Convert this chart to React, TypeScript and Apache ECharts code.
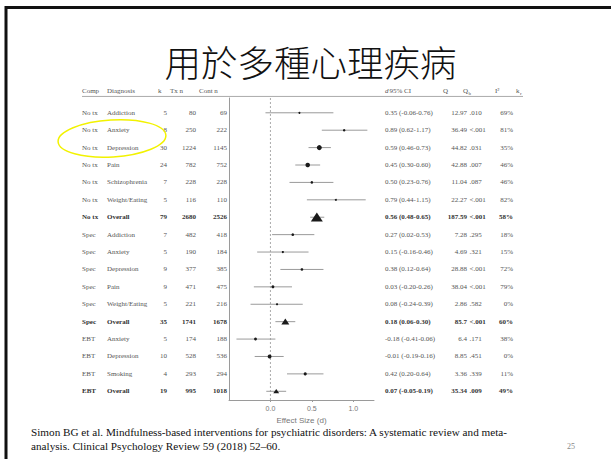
import React, { useEffect, useRef } from 'react';
import * as echarts from 'echarts';

const comps = ['No tx', 'No tx', 'No tx', 'No tx', 'No tx', 'No tx', 'No tx', 'Spec', 'Spec', 'Spec', 'Spec', 'Spec', 'Spec', 'EBT', 'EBT', 'EBT', 'EBT'];
const diagnoses = ['Addiction', 'Anxiety', 'Depression', 'Pain', 'Schizophrenia', 'Weight/Eating', 'Overall', 'Addiction', 'Anxiety', 'Depression', 'Pain', 'Weight/Eating', 'Overall', 'Anxiety', 'Depression', 'Smoking', 'Overall'];
const kValues = [5, 8, 30, 24, 7, 5, 79, 7, 5, 9, 9, 5, 35, 5, 10, 4, 19];
const txN = [80, 250, 1224, 782, 228, 116, 2680, 482, 190, 377, 471, 221, 1741, 174, 528, 293, 995];
const contN = [69, 222, 1145, 752, 228, 110, 2526, 418, 184, 385, 475, 216, 1678, 188, 536, 294, 1018];
const effect = [0.35, 0.89, 0.59, 0.45, 0.50, 0.79, 0.56, 0.27, 0.15, 0.38, 0.03, 0.08, 0.18, -0.18, -0.01, 0.42, 0.07];
const ciLow = [-0.06, 0.62, 0.46, 0.30, 0.23, 0.44, 0.48, 0.02, -0.16, 0.12, -0.20, -0.24, 0.06, -0.41, -0.19, 0.20, -0.05];
const ciHigh = [0.76, 1.17, 0.73, 0.60, 0.76, 1.15, 0.65, 0.53, 0.46, 0.64, 0.26, 0.39, 0.30, 0.06, 0.16, 0.64, 0.19];
const qValues = ['12.97', '36.49', '44.82', '42.88', '11.04', '22.27', '187.59', '7.28', '4.69', '28.88', '38.04', '2.86', '85.7', '6.4', '8.85', '3.36', '35.34'];
const pValues = ['.010', '<.001', '.031', '.007', '.087', '<.001', '<.001', '.295', '.321', '<.001', '<.001', '.582', '<.001', '.171', '.451', '.339', '.009'];
const i2Values = [69, 81, 35, 46, 46, 82, 58, 18, 15, 72, 79, 0, 60, 38, 0, 11, 49];
const xTicks = [0, 0.5, 1.0];

const TITLE = '用於多種心理疾病';
const FOOT1 = 'Simon BG et al. Mindfulness-based interventions for psychiatric disorders: A systematic review and meta-';
const FOOT2 = 'analysis. Clinical Psychology Review 59 (2018) 52–60.';
const PAGE = '25';

const Y_MIN = -0.85;
const Y_MAX = 16.5;
const HEADER_ROW = -1.25;
const SERIF = '"Liberation Serif", "Times New Roman", serif';
const SANS = '"Liberation Sans", Arial, sans-serif';

const isOverall = (i: number) => diagnoses[i] === 'Overall';
const ciText = (i: number) => `${effect[i].toFixed(2)} (${ciLow[i].toFixed(2)}-${ciHigh[i].toFixed(2)})`;

const cols: { x: number; align: string; get: (i: number) => string }[] = [
  { x: 82, align: 'left', get: (i) => comps[i] },
  { x: 107, align: 'left', get: (i) => diagnoses[i] },
  { x: 167, align: 'right', get: (i) => String(kValues[i]) },
  { x: 196, align: 'right', get: (i) => String(txN[i]) },
  { x: 227, align: 'right', get: (i) => String(contN[i]) },
  { x: 385, align: 'left', get: (i) => ciText(i) },
  { x: 467, align: 'right', get: (i) => qValues[i] },
  { x: 469.5, align: 'left', get: (i) => pValues[i] },
  { x: 513, align: 'right', get: (i) => i2Values[i] + '%' },
];

const headers: { x: number; text: string; size?: number; dy?: number; italic?: boolean }[] = [
  { x: 82, text: 'Comp' },
  { x: 107, text: 'Diagnosis' },
  { x: 158, text: 'k' },
  { x: 170, text: 'Tx n' },
  { x: 199, text: 'Cont n' },
  { x: 385, text: 'd', italic: true },
  { x: 389.5, text: '95% CI' },
  { x: 443, text: 'Q' },
  { x: 463, text: 'Q' },
  { x: 468.5, text: 'b', size: 5, dy: 2 },
  { x: 495, text: 'I²' },
  { x: 516, text: 'k' },
  { x: 520, text: 'r', size: 5, dy: 2 },
];

export default function App() {
  const ref = useRef<HTMLDivElement>(null);
  useEffect(() => {
    if (!ref.current) return;
    const chart = echarts.init(ref.current, undefined, { renderer: 'svg' });
    const rows = effect.map((e, i) => [e, i]);
    const tableRows = effect.map((_, i) => [0, i]);

    const option: any = {
      animation: false,
      backgroundColor: '#ffffff',
      grid: [
        { left: 229, top: 98, width: 145, height: 302 },
        { left: 0, top: 98, width: 611, height: 302 },
      ],
      xAxis: [
        {
          gridIndex: 0,
          type: 'value',
          min: -0.5,
          max: 1.25,
          splitLine: { show: false },
          axisLine: { show: true, onZero: false, lineStyle: { color: '#9a9a9a', width: 1 } },
          axisTick: { show: true, customValues: xTicks, length: 2, lineStyle: { color: '#9a9a9a' } },
          axisLabel: {
            customValues: xTicks,
            formatter: (v: number) => v.toFixed(1),
            fontSize: 7,
            color: '#777',
            fontFamily: SANS,
            margin: 5,
          },
          name: 'Effect Size (d)',
          nameLocation: 'middle',
          nameGap: 13,
          nameTextStyle: { fontSize: 8, color: '#777', fontFamily: SANS },
        },
        { gridIndex: 1, type: 'value', min: 0, max: 611, show: false },
      ],
      yAxis: [
        {
          gridIndex: 0,
          type: 'value',
          inverse: true,
          min: Y_MIN,
          max: Y_MAX,
          splitLine: { show: false },
          axisLine: { show: true, onZero: false, lineStyle: { color: '#9a9a9a', width: 1 } },
          axisTick: { show: false },
          axisLabel: { show: false },
        },
        { gridIndex: 1, type: 'value', inverse: true, min: Y_MIN, max: Y_MAX, show: false },
      ],
      series: [
        {
          type: 'line',
          xAxisIndex: 0,
          yAxisIndex: 0,
          data: [[0, Y_MIN], [0, Y_MAX]],
          symbol: 'none',
          lineStyle: { color: '#aaaaaa', width: 1, type: [2, 2] },
          silent: true,
          z: 1,
        },
        {
          type: 'custom',
          xAxisIndex: 0,
          yAxisIndex: 0,
          data: rows,
          encode: { x: 0, y: 1 },
          clip: false,
          z: 3,
          renderItem: (params: any, api: any) => {
            const i = params.dataIndex;
            const pE = api.coord([effect[i], i]);
            const pLo = api.coord([ciLow[i], i]);
            const pHi = api.coord([ciHigh[i], i]);
            const y = pE[1];
            const children: any[] = [
              {
                type: 'line',
                shape: { x1: pLo[0], y1: y, x2: pHi[0], y2: y },
                style: { stroke: '#9a9a9a', lineWidth: 1 },
              },
            ];
            if (isOverall(i)) {
              const s = Math.sqrt(kValues[i]) * 1.35;
              children.push({
                type: 'polygon',
                shape: { points: [[pE[0], y - s * 0.4], [pE[0] - s / 2, y + s * 0.35], [pE[0] + s / 2, y + s * 0.35]] },
                style: { fill: '#1a1a1a' },
              });
            } else {
              const r = Math.max(1, Math.min(2.8, 0.68 / (ciHigh[i] - ciLow[i])));
              children.push({
                type: 'circle',
                shape: { cx: pE[0], cy: y, r },
                style: { fill: '#1a1a1a' },
              });
            }
            return { type: 'group', children };
          },
        },
        {
          type: 'custom',
          xAxisIndex: 1,
          yAxisIndex: 1,
          data: tableRows,
          encode: { x: 0, y: 1 },
          clip: false,
          z: 2,
          renderItem: (params: any, api: any) => {
            const i = params.dataIndex;
            const bold = isOverall(i);
            const children: any[] = cols.map((c) => {
              const p = api.coord([c.x, i]);
              return {
                type: 'text',
                x: p[0],
                y: p[1],
                style: {
                  text: c.get(i),
                  align: c.align,
                  verticalAlign: 'middle',
                  fontSize: 7,
                  fontFamily: SERIF,
                  fontWeight: bold ? 'bold' : 'normal',
                  fill: bold ? '#333' : '#555',
                },
              };
            });
            if (i === 0) {
              headers.forEach((h) => {
                const p = api.coord([h.x, HEADER_ROW]);
                children.push({
                  type: 'text',
                  x: p[0],
                  y: p[1] + (h.dy || 0),
                  style: {
                    text: h.text,
                    align: 'left',
                    verticalAlign: 'middle',
                    fontSize: h.size || 7,
                    lineHeight: h.size || 7,
                    fontStyle: h.italic ? 'italic' : 'normal',
                    fontFamily: SERIF,
                    fill: '#555',
                  },
                });
              });
              const a = api.coord([82, -0.94]);
              const b = api.coord([523, -0.94]);
              children.push({
                type: 'line',
                shape: { x1: a[0], y1: a[1], x2: b[0], y2: b[1] },
                style: { stroke: '#aaaaaa', lineWidth: 1 },
              });
            }
            return { type: 'group', children };
          },
        },
      ],
      graphic: [
        { type: 'line', shape: { x1: 6, y1: 7.5, x2: 611, y2: 7.5 }, style: { stroke: '#111', lineWidth: 3 }, z: 10 },
        { type: 'line', shape: { x1: 6, y1: 6, x2: 6, y2: 459 }, style: { stroke: '#111', lineWidth: 3 }, z: 10 },
        {
          type: 'text',
          x: 310.5,
          y: 61,
          style: {
            text: TITLE,
            align: 'center',
            verticalAlign: 'middle',
            fontSize: 36.5,
            lineHeight: 32,
            fontWeight: 300,
            fontFamily: '"Noto Sans CJK TC", "Noto Sans CJK SC", sans-serif',
            fill: '#111',
          },
        },
        {
          type: 'text',
          x: 31,
          y: 432,
          style: { text: FOOT1, align: 'left', verticalAlign: 'middle', fontSize: 11.2, fontFamily: SERIF, fill: '#111' },
        },
        {
          type: 'text',
          x: 31,
          y: 445.5,
          style: { text: FOOT2, align: 'left', verticalAlign: 'middle', fontSize: 11.2, fontFamily: SERIF, fill: '#111' },
        },
        {
          type: 'text',
          x: 567,
          y: 446,
          style: { text: PAGE, align: 'left', verticalAlign: 'middle', fontSize: 8, fontFamily: SERIF, fill: '#888' },
        },
        {
          type: 'ellipse',
          shape: { cx: 112, cy: 138.5, rx: 54, ry: 18.5 },
          rotation: 0.06,
          originX: 112,
          originY: 138.5,
          style: { fill: 'none', stroke: '#f2f200', lineWidth: 1.5 },
          z: 20,
        },
      ],
    };
    chart.setOption(option);
    return () => chart.dispose();
  }, []);
  return <div ref={ref} style={{ position: 'fixed', left: 0, top: 0, width: 611, height: 459 }} />;
}
